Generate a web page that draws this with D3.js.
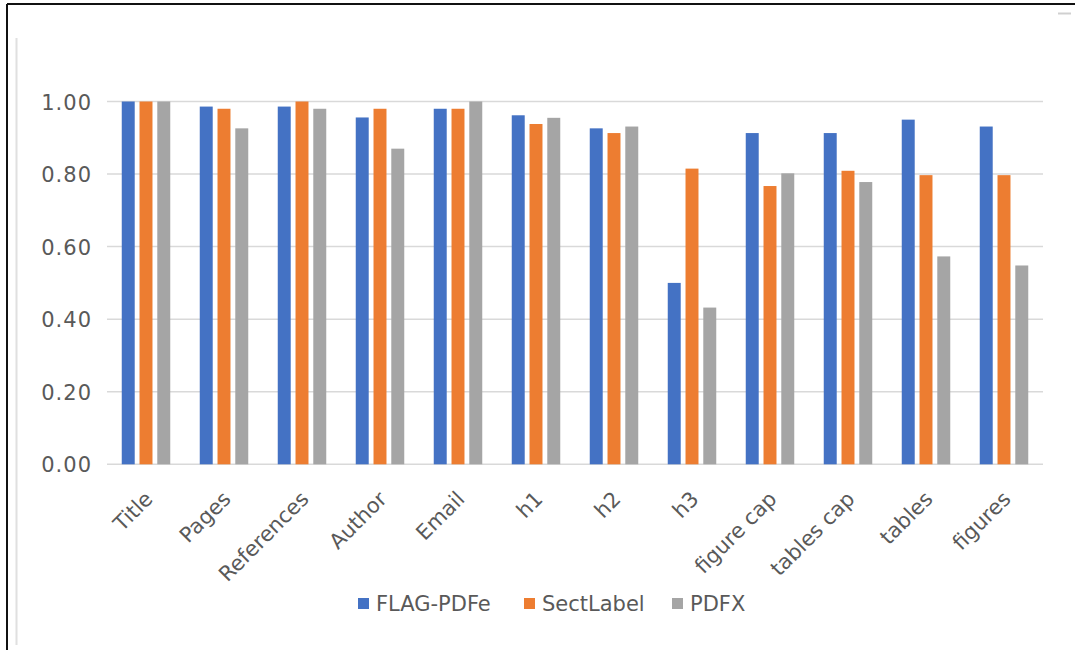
<!DOCTYPE html>
<html>
<head>
<meta charset="utf-8">
<script src="https://cdn.jsdelivr.net/npm/d3@7"></script>
<style>
  html, body { margin: 0; padding: 0; background: #fff; }
  svg { display: block; }
  text { font-family: "DejaVu Sans", sans-serif; fill: #595959; }
</style>
</head>
<body>
<svg id="chart" width="1075" height="650"></svg>
<script>
// Categories and per-tool scores
const categories = ["Title", "Pages", "References", "Author", "Email", "h1", "h2", "h3",
                    "figure cap", "tables cap", "tables", "figures"];
const seriesNames = ["FLAG-PDFe", "SectLabel", "PDFX"];
const flagPdfe  = [1.00, 0.986, 0.986, 0.956, 0.98, 0.962, 0.926, 0.50, 0.913, 0.913, 0.95, 0.931];
const sectLabel = [1.00, 0.98, 1.00, 0.98, 0.98, 0.938, 0.913, 0.815, 0.767, 0.809, 0.797, 0.797];
const pdfx      = [1.00, 0.926, 0.98, 0.870, 1.00, 0.955, 0.931, 0.432, 0.802, 0.778, 0.573, 0.548];
const yTicks = [0, 0.2, 0.4, 0.6, 0.8, 1.0];
const colors = ["#4472c4", "#ed7d31", "#a5a5a5"];

const seriesValues = [flagPdfe, sectLabel, pdfx];
const rows = categories.map((c, i) => ({
  category: c,
  values: seriesNames.map((s, k) => ({ series: s, value: seriesValues[k][i], k }))
}));

const svg = d3.select("#chart");

// Outer frame
svg.append("line").attr("x1", 7).attr("x2", 1075).attr("y1", 4).attr("y2", 4)
  .attr("stroke", "#111").attr("stroke-width", 2);
svg.append("line").attr("x1", 7).attr("x2", 7).attr("y1", 4).attr("y2", 650)
  .attr("stroke", "#111").attr("stroke-width", 2);
svg.append("line").attr("x1", 16.5).attr("x2", 16.5).attr("y1", 38).attr("y2", 645)
  .attr("stroke", "#e0e0e0").attr("stroke-width", 2);
svg.append("line").attr("x1", 1058).attr("x2", 1071).attr("y1", 13.5).attr("y2", 13.5)
  .attr("stroke", "#d0d0d0").attr("stroke-width", 2);

const plot = { left: 107, right: 1043, top: 101.5, bottom: 464.3 };

const x = d3.scaleBand().domain(categories).range([plot.left, plot.right]).paddingInner(0).paddingOuter(0);
const y = d3.scaleLinear().domain([0, 1]).range([plot.bottom, plot.top]);

const groupInner = d3.scaleBand().domain(d3.range(3))
  .range([0, 48.5]).paddingInner(0.27).paddingOuter(0);
const groupOffset = (x.bandwidth() - 48.5) / 2;

// Gridlines
svg.append("g")
  .selectAll("line")
  .data(yTicks)
  .join("line")
  .attr("x1", plot.left).attr("x2", plot.right)
  .attr("y1", d => y(d)).attr("y2", d => y(d))
  .attr("stroke", "#d9d9d9").attr("stroke-width", 1.5);

// Y axis labels
const yAxis = d3.axisLeft(y).tickValues(yTicks).tickFormat(d3.format(".2f")).tickSize(0).tickPadding(0);
svg.append("g")
  .attr("transform", `translate(92,0)`)
  .call(yAxis)
  .call(g => g.select(".domain").remove())
  .call(g => g.selectAll("text")
    .attr("font-size", 21).attr("font-family", "DejaVu Sans, sans-serif")
    .attr("letter-spacing", 1)
    .attr("fill", "#595959").attr("dy", "0.36em"));

// Bars
const groups = svg.append("g")
  .selectAll("g")
  .data(rows)
  .join("g")
  .attr("transform", d => `translate(${x(d.category) + groupOffset},0)`);

groups.selectAll("rect")
  .data(d => d.values)
  .join("rect")
  .attr("x", d => groupInner(d.k))
  .attr("width", groupInner.bandwidth())
  .attr("y", d => y(d.value))
  .attr("height", d => y(0) - y(d.value))
  .attr("fill", d => colors[d.k]);

// Category labels, rotated
const xAxis = d3.axisBottom(x).tickSize(0).tickPadding(0);
svg.append("g")
  .attr("transform", `translate(0,${plot.bottom})`)
  .call(xAxis)
  .call(g => g.select(".domain").remove())
  .call(g => g.selectAll("text")
    .attr("font-size", 21).attr("font-family", "DejaVu Sans, sans-serif")
    .attr("fill", "#595959")
    .attr("text-anchor", "end")
    .attr("dy", null).attr("y", null)
    .attr("transform", "translate(8,36) rotate(-45)"));

// Legend
const legendItems = [
  { name: seriesNames[0], color: colors[0], x: 358 },
  { name: seriesNames[1], color: colors[1], x: 524 },
  { name: seriesNames[2], color: colors[2], x: 672 }
];
const legend = svg.append("g");
legend.selectAll("rect")
  .data(legendItems)
  .join("rect")
  .attr("x", d => d.x).attr("y", 598).attr("width", 11).attr("height", 11)
  .attr("fill", d => d.color);
legend.selectAll("text")
  .data(legendItems)
  .join("text")
  .attr("x", d => d.x + 18).attr("y", 611)
  .attr("font-size", 21)
  .text(d => d.name);
</script>
</body>
</html>
